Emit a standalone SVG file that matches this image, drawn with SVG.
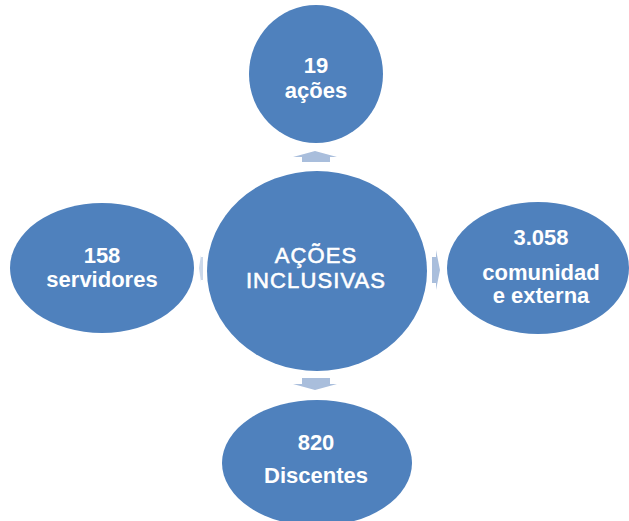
<svg xmlns="http://www.w3.org/2000/svg" width="629" height="521" viewBox="0 0 629 521">
<style>
.node{fill:#4F81BD;}
.arr{fill:#A9BEDC;}
.t{font-family:"Liberation Sans",Arial,sans-serif;font-size:22px;font-weight:bold;fill:#FFFFFF;text-anchor:middle;}
.c{font-family:"Liberation Sans",Arial,sans-serif;font-size:22px;fill:#FFFFFF;stroke:#FFFFFF;stroke-width:0.6px;text-anchor:middle;letter-spacing:1.1px;}
</style>
<rect width="629" height="521" fill="#FFFFFF"/>
<g id="connectors">
<polygon class="arr" points="293,157 315,151 337,157 330,157 330,162 302,162 302,157"/>
<polygon class="arr" points="432,257 436,257 436,250 440,270 436,290 436,283 432,283"/>
<polygon class="arr" points="203,257 201,257 201,255 199,268 201,282 201,280 203,280" opacity="0.6"/>
<polygon class="arr" points="302,378 330,378 330,384 337,384 315,390 293,384 302,384"/>
</g>
<g id="center">
<ellipse class="node" cx="317" cy="271" rx="110" ry="100"/>
<text class="c" x="316" y="263">AÇÕES</text>
<text class="c" x="316" y="288">INCLUSIVAS</text>
</g>
<g id="top">
<ellipse class="node" cx="316" cy="74" rx="67" ry="69"/>
<text class="t" x="316" y="73">19</text>
<text class="t" x="316" y="98">ações</text>
</g>
<g id="right">
<ellipse class="node" cx="538" cy="268" rx="91" ry="66"/>
<text class="t" x="541" y="245">3.058</text>
<text class="t" x="541" y="280">comunidad</text>
<text class="t" x="541" y="303">e externa</text>
</g>
<g id="left">
<ellipse class="node" cx="102" cy="268" rx="92" ry="65"/>
<text class="t" x="102" y="263">158</text>
<text class="t" x="102" y="287">servidores</text>
</g>
<g id="bottom">
<ellipse class="node" cx="317" cy="463" rx="95" ry="63"/>
<text class="t" x="316" y="450">820</text>
<text class="t" x="316" y="483">Discentes</text>
</g>
</svg>
